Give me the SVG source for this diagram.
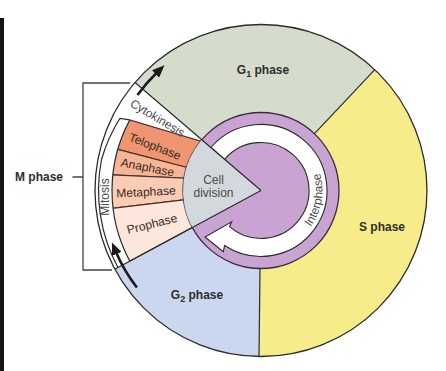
<svg xmlns="http://www.w3.org/2000/svg" width="446" height="371" viewBox="0 0 446 371">
<style>
.ol{stroke:#2b2b2b;stroke-width:1.3;fill:none}
.ln{stroke:#2b2b2b;stroke-width:1.2;fill:none}
.lbl{font-family:"Liberation Sans",Arial,sans-serif;font-size:12px;font-weight:bold;fill:#2e2e2e}
.sub{font-family:"Liberation Sans",Arial,sans-serif;font-size:12px;fill:#3a2a24}
.gr{font-family:"Liberation Sans",Arial,sans-serif;font-size:12px;fill:#4a4a4a}
.sp{stroke:#4a2e26;stroke-width:1.1}
</style>
<defs>
<clipPath id="cl149"><circle cx="261" cy="190.5" r="149"/></clipPath>
<marker id="ah" viewBox="0 0 12 10" refX="2" refY="5" markerWidth="4.8" markerHeight="4" orient="auto" markerUnits="strokeWidth"><path d="M0,0 L12,5 L0,10 z" fill="#1a1a1a"/></marker>
</defs>
<rect width="446" height="371" fill="#fff"/>
<rect x="0" y="18" width="4" height="353" fill="#141414"/>

<g id="g1-phase"><path d="M261,190.5 L135,82.5 A166 166 0 0 1 374.8,69.7 Z" fill="#d6dccb"/></g>
<g id="s-phase"><path d="M261,190.5 L374.8,69.7 A166 166 0 0 1 259,356.5 Z" fill="#f6ec8a"/></g>
<g id="g2-phase"><path d="M261,190.5 L259,356.5 A166 166 0 0 1 114.8,269.2 Z" fill="#cbd7ef"/></g>
<g id="m-phase-sector"><path d="M261,190.5 L114.8,269.2 A166 166 0 0 1 135,82.5 Z" fill="#ffffff"/></g>

<g id="mitosis-subphases" clip-path="url(#cl149)">
<polygon id="telophase" class="sp" points="100,111 215,145.4 215,174.8 100,144.8" fill="#ef9571"/>
<polygon id="anaphase" class="sp" points="100,144.8 215,174.8 215,179.5 100,174.3" fill="#f6b595"/>
<polygon id="metaphase" class="sp" points="100,174.3 215,179.5 215,196.1 100,209.8" fill="#f9ccb3"/>
<polygon id="prophase" class="sp" points="100,209.8 215,196.1 215,215.3 100,277.2" fill="#fde6db"/>
</g>
<g id="mitosis-bracket">
<path class="ln" d="M129.8,119.9 A149 149 0 0 0 129.8,261.1"/>
<path class="ln" d="M129.8,119.9 L120,118.3 A161 161 0 0 0 101.4,160 A162.5 162.5 0 0 0 117.9,267.5"/>
</g>

<g id="interphase">
<circle cx="261" cy="190.5" r="78" fill="#c9a4d3" stroke="#3a2a3e" stroke-width="1.3"/>
<path d="M210.9,147.5 A66 66 0 1 1 224.6,245.5 L223.3,251.7 L205,237 L231.7,221.7 L229.5,226.7 A48 48 0 1 0 224.6,159.3 Z" fill="#ffffff" stroke="#2b2b2b" stroke-width="1.1"/>
</g>
<g id="cell-division"><path d="M261,190.5 L192.3,227.5 A78 78 0 0 1 201.8,139.7 Z" fill="#d3d8dc"/></g>

<g id="connectors">
<line class="ln" x1="261" y1="190.5" x2="135" y2="82.5"/>
<line class="ln" x1="261" y1="190.5" x2="114.8" y2="269.2"/>
<line class="ln" x1="314.5" y1="133.7" x2="374.8" y2="69.7"/>
<line class="ln" x1="260" y1="268.5" x2="259" y2="356.5"/>
<circle class="ol" cx="261" cy="190.5" r="166"/>
<path d="M137.5,95 A157.5 157.5 0 0 1 157,72.5" fill="none" stroke="#1a1a1a" stroke-width="2.6" marker-end="url(#ah)"/>
<path d="M136.9,287.5 A157.5 157.5 0 0 1 116,252" fill="none" stroke="#1a1a1a" stroke-width="2.6" marker-end="url(#ah)"/>
<path d="M130,83 H83 V270 H112 M72.5,177 H83" fill="none" stroke="#444" stroke-width="1.3"/>
</g>

<g id="labels">
<text class="lbl" x="263" y="74" text-anchor="middle">G<tspan font-size="9" dy="3">1</tspan><tspan dy="-3"> phase</tspan></text>
<text class="lbl" x="382" y="231" text-anchor="middle">S phase</text>
<text class="lbl" x="197" y="299" text-anchor="middle">G<tspan font-size="9" dy="3">2</tspan><tspan dy="-3"> phase</tspan></text>
<text class="lbl" x="63" y="180.5" text-anchor="end">M phase</text>
<text class="gr" x="213.5" y="184" text-anchor="middle" font-size="12.5">Cell</text>
<text class="gr" x="213.5" y="197" text-anchor="middle" font-size="12.5">division</text>
<text class="gr" transform="translate(157.5,118) rotate(31)" y="4" text-anchor="middle" font-size="11">Cytokinesis</text>
<text class="sub" transform="translate(155,146.5) rotate(21)" y="4" text-anchor="middle">Telophase</text>
<text class="sub" transform="translate(147.5,167.5) rotate(11)" y="4" text-anchor="middle">Anaphase</text>
<text class="sub" transform="translate(146,192) rotate(-3)" y="4" text-anchor="middle">Metaphase</text>
<text class="sub" transform="translate(152,224) rotate(-14)" y="4" text-anchor="middle">Prophase</text>
<text class="gr" transform="translate(105,197) rotate(-90)" y="4" text-anchor="middle" font-size="11.5">Mitosis</text>
<path id="ip" d="M304.5,234 A61.5 61.5 0 0 0 316.7,164.5" fill="none"/>
<text class="gr"><textPath href="#ip" startOffset="50%" text-anchor="middle">Interphase</textPath></text>
</g>
</svg>
